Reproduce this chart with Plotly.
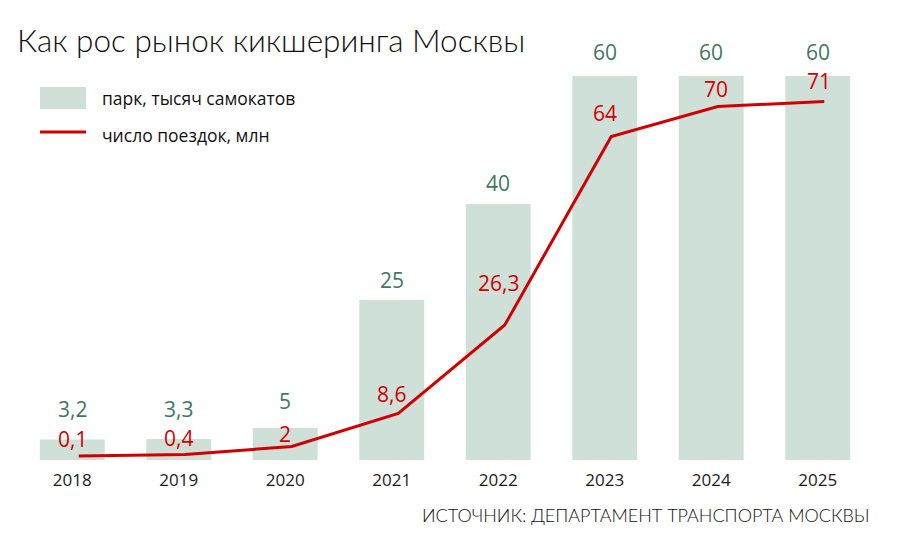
import plotly.graph_objects as go

years = ["2018", "2019", "2020", "2021", "2022", "2023", "2024", "2025"]
fleet = [3.2, 3.3, 5, 25, 40, 60, 60, 60]          # тысяч самокатов
trips = [0.1, 0.4, 2, 8.6, 26.3, 64, 70, 71]       # млн поездок

title_text = "Как рос рынок кикшеринга Москвы"
source_text = "ИСТОЧНИК: ДЕПАРТАМЕНТ ТРАНСПОРТА МОСКВЫ"
legend_bar = "парк, тысяч самокатов"
legend_line = "число поездок, млн"

BAR_COLOR = "#cfe0d8"
BAR_TEXT = "#3f7762"
RED = "#d00000"
FONT = "Open Sans"
LIGHT = "Lato"

W, H = 901, 557
ML, MR, MT, MB = 19, 30, 40, 97
PW, PH = W - ML - MR, H - MT - MB


def fmt(v):
    return f"{v:g}".replace(".", ",")


def px(x):
    return (x - ML) / PW


def py(y):
    return (H - MB - y) / PH


fig = go.Figure()
fig.add_trace(go.Bar(x=years, y=fleet, marker=dict(color=BAR_COLOR, line_width=0),
                     hoverinfo="skip", showlegend=False))
fig.add_trace(go.Scatter(x=years, y=trips, mode="lines", xaxis="x2", yaxis="y2",
                         line=dict(color=RED, width=3), hoverinfo="skip", showlegend=False))

ann = []
fleet_shift = [31, 30, 27, 20, 21, 24, 24, 24]
for i, (v, s) in enumerate(zip(fleet, fleet_shift)):
    ann.append(dict(x=i, y=v, xref="x", yref="y", text=fmt(v), showarrow=False,
                    yshift=s, font=dict(family=FONT, size=21, color=BAR_TEXT)))
trip_shift = [17, 17, 13, 20, 42, 24, 18, 21]
trip_xshift = [0, 0, 0, 0, 0, 0, 5, 1]
for i, (v, s, xs) in enumerate(zip(trips, trip_shift, trip_xshift)):
    ann.append(dict(x=i, y=v, xref="x", yref="y2", text=fmt(v), showarrow=False,
                    yshift=s, xshift=xs, font=dict(family=FONT, size=21, color=RED)))

# legend (drawn manually)
ann.append(dict(x=px(100), y=py(98), xref="paper", yref="paper", text=legend_bar,
                showarrow=False, xanchor="left", yanchor="middle",
                font=dict(family=FONT, size=17.5, color="#111")))
ann.append(dict(x=px(100), y=py(135), xref="paper", yref="paper", text=legend_line,
                showarrow=False, xanchor="left", yanchor="middle",
                font=dict(family=FONT, size=17.5, color="#111")))
# source
ann.append(dict(x=px(872), y=py(515), xref="paper", yref="paper", text=source_text,
                showarrow=False, xanchor="right", yanchor="middle",
                font=dict(family=LIGHT, size=18, color="#111", weight=300)))

shapes = [
    dict(type="rect", xref="paper", yref="paper", x0=px(40), x1=px(86), y0=py(109), y1=py(87),
         fillcolor=BAR_COLOR, line_width=0),
    dict(type="line", xref="paper", yref="paper", x0=px(40), x1=px(86), y0=py(132), y1=py(132),
         line=dict(color=RED, width=3)),
]

offset = 0.061
fig.update_layout(
    width=W, height=H,
    margin=dict(l=ML, r=MR, t=MT, b=MB),
    paper_bgcolor="white", plot_bgcolor="white",
    bargap=0.39,
    title=dict(text=title_text, x=17 / W, xanchor="left", xref="container",
               y=1 - 41 / H, yanchor="middle", yref="container",
               font=dict(family=LIGHT, size=31.5, color="#111", weight=300)),
    xaxis=dict(type="category", range=[-0.5, 7.5], showgrid=False, showline=False,
               zeroline=False, ticks="", ticklabelstandoff=8,
               tickfont=dict(family=FONT, size=17, color="#1a1a1a")),
    xaxis2=dict(type="category", overlaying="x", range=[-0.5 - offset, 7.5 - offset],
                visible=False),
    yaxis=dict(range=[0, PH / 6.4], visible=False),
    yaxis2=dict(range=[-0.7, -0.7 + PH / 5], overlaying="y", visible=False),
    annotations=ann,
    shapes=shapes,
)

fig.write_html("out.html")
